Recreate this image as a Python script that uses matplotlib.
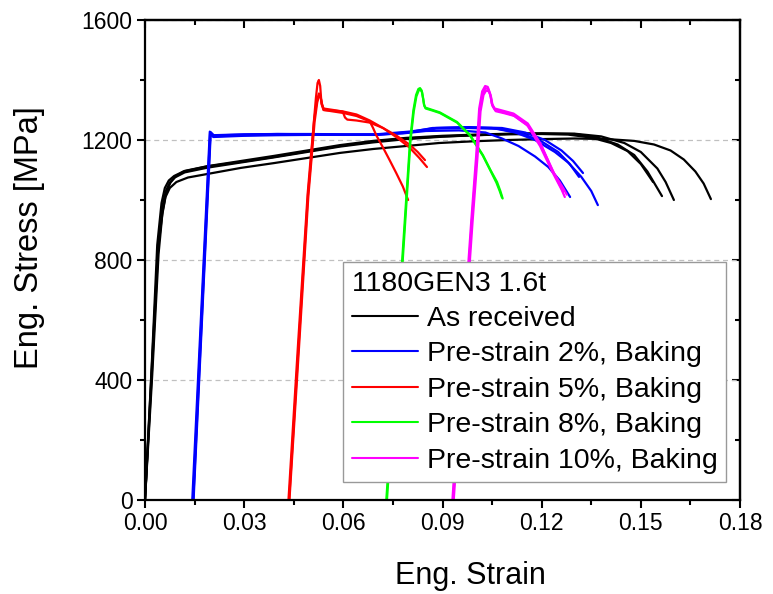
import matplotlib
matplotlib.use("Agg")
import matplotlib.pyplot as plt
from matplotlib.ticker import MultipleLocator, FormatStrFormatter

plt.rcParams['font.family'] = ['Liberation Sans', 'DejaVu Sans']

# ---------------- data (strain, stress in MPa) ----------------
# As received
ar1_strain = [0, 0.002, 0.0039, 0.0052, 0.0062, 0.0075, 0.0095, 0.013, 0.019, 0.029, 0.039, 0.049, 0.059, 0.069,
              0.079, 0.089, 0.10, 0.11, 0.12, 0.13, 0.14, 0.148, 0.154, 0.159, 0.163, 0.1665, 0.169, 0.1712]
ar1_stress = [0, 430, 833, 950, 1010, 1040, 1060, 1075, 1087, 1107, 1123, 1140, 1157, 1170,
              1180, 1190, 1196, 1200, 1203, 1205, 1203, 1197, 1185, 1165, 1135, 1095, 1055, 1003]
ar2_strain = [0, 0.002, 0.0037, 0.005, 0.006, 0.0072, 0.0088, 0.0116, 0.0188, 0.029, 0.0387, 0.049, 0.059, 0.069,
              0.079, 0.09, 0.10, 0.11, 0.12, 0.128, 0.135, 0.141, 0.146, 0.150, 0.1537]
ar2_stress = [0, 440, 850, 990, 1040, 1065, 1080, 1095, 1112, 1127, 1143, 1162, 1180, 1195,
              1205, 1212, 1216, 1219, 1220, 1218, 1208, 1190, 1163, 1120, 1060]
ar3_strain = [0, 0.0021, 0.004, 0.0052, 0.0063, 0.0075, 0.009, 0.012, 0.019, 0.029, 0.039, 0.049, 0.059, 0.069,
              0.079, 0.09, 0.10, 0.11, 0.12, 0.13, 0.137, 0.143, 0.148, 0.152, 0.1564]
ar3_stress = [0, 430, 840, 975, 1030, 1058, 1075, 1092, 1108, 1125, 1142, 1160, 1178, 1192,
              1203, 1211, 1216, 1220, 1222, 1220, 1208, 1185, 1150, 1095, 1013]
ar4_strain = [0, 0.0022, 0.0041, 0.0053, 0.0064, 0.0077, 0.0092, 0.012, 0.019, 0.029, 0.039, 0.049, 0.059, 0.069,
              0.079, 0.09, 0.10, 0.11, 0.12, 0.13, 0.138, 0.145, 0.150, 0.155, 0.1575, 0.160]
ar4_stress = [0, 420, 820, 960, 1025, 1058, 1078, 1097, 1113, 1130, 1147, 1165, 1183, 1197,
              1207, 1214, 1218, 1221, 1222, 1221, 1212, 1190, 1160, 1105, 1060, 1000]

# Pre-strain 2%, Baking
p2_1_strain = [0.0145, 0.0197, 0.0205, 0.03, 0.04, 0.05, 0.06, 0.07, 0.078, 0.085, 0.095, 0.103, 0.108, 0.113,
               0.118, 0.122, 0.1255, 0.1286]
p2_1_stress = [0, 1225, 1215, 1218, 1220, 1219, 1218, 1218, 1222, 1230, 1232, 1225, 1205, 1180,
               1145, 1110, 1065, 1010]
p2_2_strain = [0.0143, 0.0196, 0.0205, 0.03, 0.04, 0.05, 0.06, 0.07, 0.08, 0.087, 0.095, 0.105, 0.112, 0.118,
               0.124, 0.128, 0.132, 0.135, 0.137]
p2_2_stress = [0, 1228, 1212, 1216, 1218, 1218, 1217, 1218, 1226, 1240, 1242, 1240, 1225, 1200,
               1160, 1125, 1077, 1030, 983]
p2_3_strain = [0.0146, 0.0198, 0.0207, 0.03, 0.04, 0.05, 0.06, 0.07, 0.08, 0.088, 0.098, 0.107, 0.114, 0.12,
               0.125, 0.1285, 0.1313]
p2_3_stress = [0, 1222, 1210, 1214, 1216, 1217, 1217, 1217, 1225, 1238, 1240, 1237, 1222, 1195,
               1160, 1120, 1077]
p2_4_strain = [0.0147, 0.0199, 0.0208, 0.03, 0.04, 0.05, 0.06, 0.07, 0.08, 0.088, 0.098, 0.108, 0.115, 0.121,
               0.126, 0.1295, 0.1325]
p2_4_stress = [0, 1226, 1216, 1219, 1220, 1220, 1219, 1219, 1228, 1240, 1243, 1240, 1225, 1200,
               1165, 1130, 1090]

# Pre-strain 5%, Baking
p5_1_strain = [0.0436, 0.0465, 0.0493, 0.0502, 0.0510, 0.0517, 0.0522, 0.0526, 0.0530, 0.0534, 0.0540, 0.057,
               0.060, 0.064, 0.068, 0.072, 0.076, 0.080, 0.083, 0.0853]
p5_1_stress = [0, 520, 1017, 1130, 1250, 1340, 1390, 1400, 1380, 1320, 1300, 1298,
               1295, 1285, 1265, 1240, 1210, 1175, 1140, 1110]
p5_2_strain = [0.0434, 0.0463, 0.0492, 0.0502, 0.0512, 0.0520, 0.0526, 0.0530, 0.0535, 0.0540, 0.057, 0.0598,
               0.0605, 0.0612, 0.064, 0.068, 0.072, 0.076, 0.080, 0.0825, 0.0847]
p5_2_stress = [0, 520, 1020, 1150, 1270, 1330, 1355, 1350, 1320, 1305, 1300, 1295,
               1275, 1268, 1265, 1258, 1240, 1215, 1185, 1160, 1133]
p5_3_strain = [0.0437, 0.0466, 0.0494, 0.0504, 0.0513, 0.0521, 0.0527, 0.0531, 0.0536, 0.0541, 0.057, 0.060,
               0.064, 0.068, 0.069, 0.070, 0.072, 0.074, 0.076, 0.078, 0.0796]
p5_3_stress = [0, 510, 1010, 1140, 1260, 1325, 1350, 1345, 1318, 1300, 1295, 1290,
               1280, 1262, 1240, 1215, 1175, 1133, 1090, 1045, 1000]

# Pre-strain 8%, Baking
p8_1_strain = [0.0730, 0.0766, 0.0802, 0.0812, 0.0820, 0.0827, 0.0832, 0.0837, 0.0841, 0.0844, 0.0848, 0.087,
               0.0892, 0.0944, 0.0983, 0.1022, 0.1045, 0.1065, 0.1075, 0.1082]
p8_1_stress = [0, 600, 1200, 1300, 1350, 1370, 1373, 1365, 1340, 1318, 1308, 1300,
               1292, 1260, 1217, 1150, 1100, 1060, 1030, 1005]
p8_2_strain = [0.0732, 0.0768, 0.0803, 0.0813, 0.0821, 0.0828, 0.0833, 0.0838, 0.0842, 0.0845, 0.0849, 0.087,
               0.0892, 0.0944, 0.0983, 0.1022, 0.1045, 0.1063, 0.1073, 0.1080]
p8_2_stress = [0, 600, 1195, 1295, 1345, 1365, 1368, 1360, 1335, 1314, 1305, 1298,
               1290, 1258, 1215, 1148, 1098, 1058, 1030, 1008]

# Pre-strain 10%, Baking
p10_1_strain = [0.0932, 0.0960, 0.0989, 0.1004, 0.1013, 0.1022, 0.1030, 0.1038, 0.1045, 0.1050, 0.1059, 0.1085,
                0.1113, 0.1156, 0.1195, 0.1234, 0.1261, 0.1270]
p10_1_stress = [0, 470, 933, 1150, 1300, 1355, 1373, 1370, 1350, 1317, 1300, 1292,
                1283, 1250, 1180, 1090, 1033, 1010]
p10_2_strain = [0.0930, 0.0958, 0.0987, 0.1002, 0.1011, 0.1020, 0.1029, 0.1037, 0.1044, 0.1049, 0.1058, 0.1085,
                0.1115, 0.1158, 0.1197, 0.1232, 0.1255, 0.1265]
p10_2_stress = [0, 470, 930, 1150, 1305, 1362, 1380, 1377, 1355, 1322, 1305, 1297,
                1288, 1255, 1187, 1100, 1050, 1028]
p10_3_strain = [0.0934, 0.0962, 0.0991, 0.1006, 0.1015, 0.1024, 0.1032, 0.1040, 0.1047, 0.1052, 0.1061, 0.1088,
                0.1118, 0.1160, 0.1200, 0.1238, 0.1265, 0.1276]
p10_3_stress = [0, 465, 928, 1145, 1295, 1350, 1365, 1362, 1343, 1312, 1296, 1289,
                1280, 1246, 1178, 1088, 1040, 1018]

groups = [
    ("As received", "#000000", [(ar1_strain, ar1_stress), (ar2_strain, ar2_stress),
                                (ar3_strain, ar3_stress), (ar4_strain, ar4_stress)]),
    ("Pre-strain 2%, Baking", "#0000FF", [(p2_1_strain, p2_1_stress), (p2_2_strain, p2_2_stress),
                                          (p2_3_strain, p2_3_stress), (p2_4_strain, p2_4_stress)]),
    ("Pre-strain 5%, Baking", "#FF0000", [(p5_1_strain, p5_1_stress), (p5_2_strain, p5_2_stress),
                                          (p5_3_strain, p5_3_stress)]),
    ("Pre-strain 8%, Baking", "#00FF00", [(p8_1_strain, p8_1_stress), (p8_2_strain, p8_2_stress)]),
    ("Pre-strain 10%, Baking", "#FF00FF", [(p10_1_strain, p10_1_stress), (p10_2_strain, p10_2_stress),
                                           (p10_3_strain, p10_3_stress)]),
]

legend_title = "1180GEN3 1.6t"
x_ticks_major = 0.03
y_ticks_major = 400

# ---------------- figure ----------------
W, H = 773, 594
fig = plt.figure(figsize=(W / 100, H / 100), dpi=100)
ax = fig.add_axes([145 / W, 1 - 500 / H, (740 - 145) / W, (500 - 20) / H])

handles = []
for label, color, curves in groups:
    for i, (sx, sy) in enumerate(curves):
        ln, = ax.plot(sx, sy, color=color, lw=1.6, solid_joinstyle='round', solid_capstyle='round')
        if i == 0:
            ln.set_label(label)
            handles.append(ln)

ax.set_xlim(0, 0.18)
ax.set_ylim(0, 1600)
ax.xaxis.set_major_locator(MultipleLocator(x_ticks_major))
ax.xaxis.set_minor_locator(MultipleLocator(x_ticks_major / 2))
ax.yaxis.set_major_locator(MultipleLocator(y_ticks_major))
ax.yaxis.set_minor_locator(MultipleLocator(y_ticks_major / 2))
ax.xaxis.set_major_formatter(FormatStrFormatter('%.2f'))

ax.yaxis.grid(True, which='major', linestyle=(0, (4, 3)), color='#c0c0c0', lw=0.9)
ax.set_axisbelow(True)

for s in ax.spines.values():
    s.set_linewidth(1.6)

ax.tick_params(axis='both', which='major', direction='out', length=6, width=1.5, labelsize=16.5, pad=3)
ax.tick_params(axis='both', which='minor', direction='out', length=3.5, width=1.5)
ax.tick_params(top=False, right=False, which='both')

secx = ax.secondary_xaxis('top')
secx.xaxis.set_major_locator(MultipleLocator(x_ticks_major))
secx.xaxis.set_minor_locator(MultipleLocator(x_ticks_major / 2))
secx.tick_params(which='major', direction='in', length=6, width=1.5, labeltop=False)
secx.tick_params(which='minor', direction='in', length=3.5, width=1.5)
secx.spines['top'].set_linewidth(1.6)

secy = ax.secondary_yaxis('right')
secy.yaxis.set_major_locator(MultipleLocator(y_ticks_major))
secy.yaxis.set_minor_locator(MultipleLocator(y_ticks_major / 2))
secy.tick_params(which='major', direction='in', length=6, width=1.5, labelright=False)
secy.tick_params(which='minor', direction='in', length=3.5, width=1.5)
secy.spines['right'].set_linewidth(1.6)

fig.text(470 / W, 1 - 576 / H, "Eng. Strain", fontsize=22, ha='center', va='center')
fig.text(30 / W, 1 - 238 / H, "Eng. Stress [MPa]", fontsize=23.5, ha='center', va='center', rotation=90)

leg = ax.legend(handles=handles, title=legend_title, loc='upper left',
                bbox_to_anchor=(343 / W, 1 - 262 / H), bbox_transform=fig.transFigure,
                fontsize=20.5, title_fontsize=20.5, frameon=True, fancybox=False, shadow=False,
                borderaxespad=0, borderpad=0.3, labelspacing=0.33, handlelength=2.35,
                handletextpad=0.3, alignment='left')
leg.get_frame().set_edgecolor('#999999')
leg.get_frame().set_linewidth(1.0)
leg.get_frame().set_alpha(1)
for h in leg.legend_handles:
    h.set_linewidth(1.5)
leg.set_zorder(10)

fig.savefig("out.png", dpi=100)
